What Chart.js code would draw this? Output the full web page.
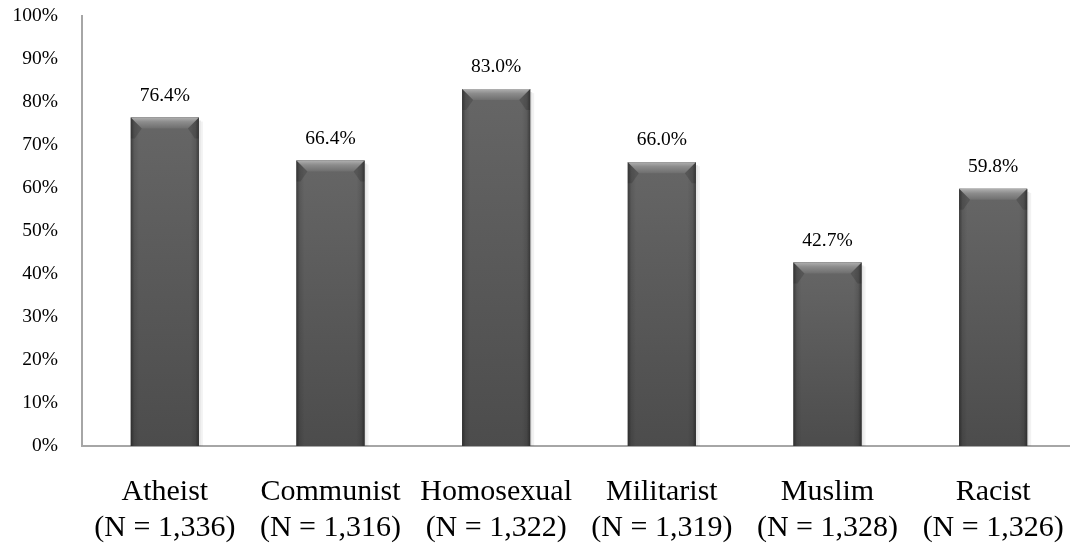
<!DOCTYPE html>
<html>
<head>
<meta charset="utf-8">
<script src="https://cdn.jsdelivr.net/npm/chart.js@4/dist/chart.umd.min.js"></script>
<style>
  html, body { margin: 0; padding: 0; background: #ffffff; overflow: hidden; }
  #wrap { width: 1076px; height: 548px; position: relative; }
</style>
</head>
<body>
<div id="wrap"><canvas id="c"></canvas></div>
<script>
const categories = [
  ["Atheist", "(N = 1,336)"],
  ["Communist", "(N = 1,316)"],
  ["Homosexual", "(N = 1,322)"],
  ["Militarist", "(N = 1,319)"],
  ["Muslim", "(N = 1,328)"],
  ["Racist", "(N = 1,326)"]
];
const values = [76.4, 66.4, 83.0, 66.0, 42.7, 59.8];
const yTicks = [0, 10, 20, 30, 40, 50, 60, 70, 80, 90, 100];

const FONT = "'Liberation Serif', 'Times New Roman', serif";

const bevelPlugin = {
  id: 'bevel',
  afterDatasetsDraw(chart) {
    const ctx = chart.ctx;
    const meta = chart.getDatasetMeta(0);
    meta.data.forEach((bar, i) => {
      const w = bar.width;
      const x0 = bar.x - w / 2, x1 = bar.x + w / 2;
      const top = bar.y, base = bar.base;
      const h = base - top;
      ctx.save();
      // soft shadow on right
      ctx.fillStyle = 'rgba(0,0,0,0.10)';
      ctx.fillRect(x1, top + 3, 2, h - 3);
      ctx.fillStyle = 'rgba(0,0,0,0.05)';
      ctx.fillRect(x1 + 2, top + 4, 2, h - 4);
      // body gradient vertical
      const gv = ctx.createLinearGradient(0, top, 0, base);
      gv.addColorStop(0, '#666666');
      gv.addColorStop(1, '#4c4c4c');
      ctx.fillStyle = gv;
      ctx.fillRect(x0, top, w, h);
      // side darkening
      const gh = ctx.createLinearGradient(x0, 0, x1, 0);
      gh.addColorStop(0, 'rgba(0,0,0,0.40)');
      gh.addColorStop(0.05, 'rgba(0,0,0,0.10)');
      gh.addColorStop(0.12, 'rgba(0,0,0,0)');
      gh.addColorStop(0.88, 'rgba(0,0,0,0)');
      gh.addColorStop(0.95, 'rgba(0,0,0,0.10)');
      gh.addColorStop(1, 'rgba(0,0,0,0.40)');
      ctx.fillStyle = gh;
      ctx.fillRect(x0, top, w, h);
      // top bevel
      const b = Math.min(11, h / 2);
      const gt = ctx.createLinearGradient(0, top, 0, top + b);
      gt.addColorStop(0, '#b0b0b0');
      gt.addColorStop(0.4, '#8c8c8c');
      gt.addColorStop(1, '#6e6e6e');
      ctx.fillStyle = gt;
      ctx.beginPath();
      ctx.moveTo(x0, top);
      ctx.lineTo(x1, top);
      ctx.lineTo(x1 - b, top + b);
      ctx.lineTo(x0 + b, top + b);
      ctx.closePath();
      ctx.fill();
      // side bevels near top
      ctx.fillStyle = 'rgba(0,0,0,0.15)';
      ctx.beginPath();
      ctx.moveTo(x0, top);
      ctx.lineTo(x0 + b, top + b);
      ctx.lineTo(x0 + 4, top + b + 10);
      ctx.lineTo(x0, top + b + 10);
      ctx.closePath();
      ctx.fill();
      ctx.beginPath();
      ctx.moveTo(x1, top);
      ctx.lineTo(x1 - b, top + b);
      ctx.lineTo(x1 - 4, top + b + 10);
      ctx.lineTo(x1, top + b + 10);
      ctx.closePath();
      ctx.fill();
      ctx.restore();

      // value label
      ctx.save();
      ctx.font = '19.5px ' + FONT;
      ctx.fillStyle = '#000000';
      ctx.textAlign = 'center';
      ctx.textBaseline = 'middle';
      ctx.fillText(values[i].toFixed(1) + '%', bar.x, top - 22);
      ctx.restore();
    });
  }
};

new Chart(document.getElementById('c'), {
  type: 'bar',
  data: {
    labels: categories,
    datasets: [{
      data: values,
      backgroundColor: '#585858',
      borderWidth: 0,
      barPercentage: 0.411,
      categoryPercentage: 1.0
    }]
  },
  options: {
    responsive: true,
    maintainAspectRatio: false,
    animation: false,
    devicePixelRatio: 1,
    layout: { padding: { top: 16, right: 0, bottom: 0, left: 0 } },
    plugins: {
      legend: { display: false },
      tooltip: { enabled: false }
    },
    scales: {
      x: {
        grid: { display: false, drawTicks: false },
        border: { display: true, color: '#a6a6a6', width: 2 },
        ticks: {
          color: '#000000',
          font: { family: FONT, size: 30, lineHeight: 1.17 },
          padding: 29,
          maxRotation: 0,
          autoSkip: false
        },
        afterFit: (s) => { s.height = 102; s.paddingLeft = 0; s.paddingRight = 0; }
      },
      y: {
        min: 0,
        max: 100,
        afterBuildTicks: (s) => { s.ticks = yTicks.map(v => ({ value: v })); },
        grid: { display: false, drawTicks: false },
        border: { display: true, color: '#a6a6a6', width: 2 },
        ticks: {
          color: '#000000',
          font: { family: FONT, size: 19.5 },
          padding: 24,
          callback: (v) => v + '%'
        },
        afterFit: (s) => { s.width = 82; s.paddingTop = 0; s.paddingBottom = 0; }
      }
    }
  },
  plugins: [bevelPlugin]
});
</script>
</body>
</html>
